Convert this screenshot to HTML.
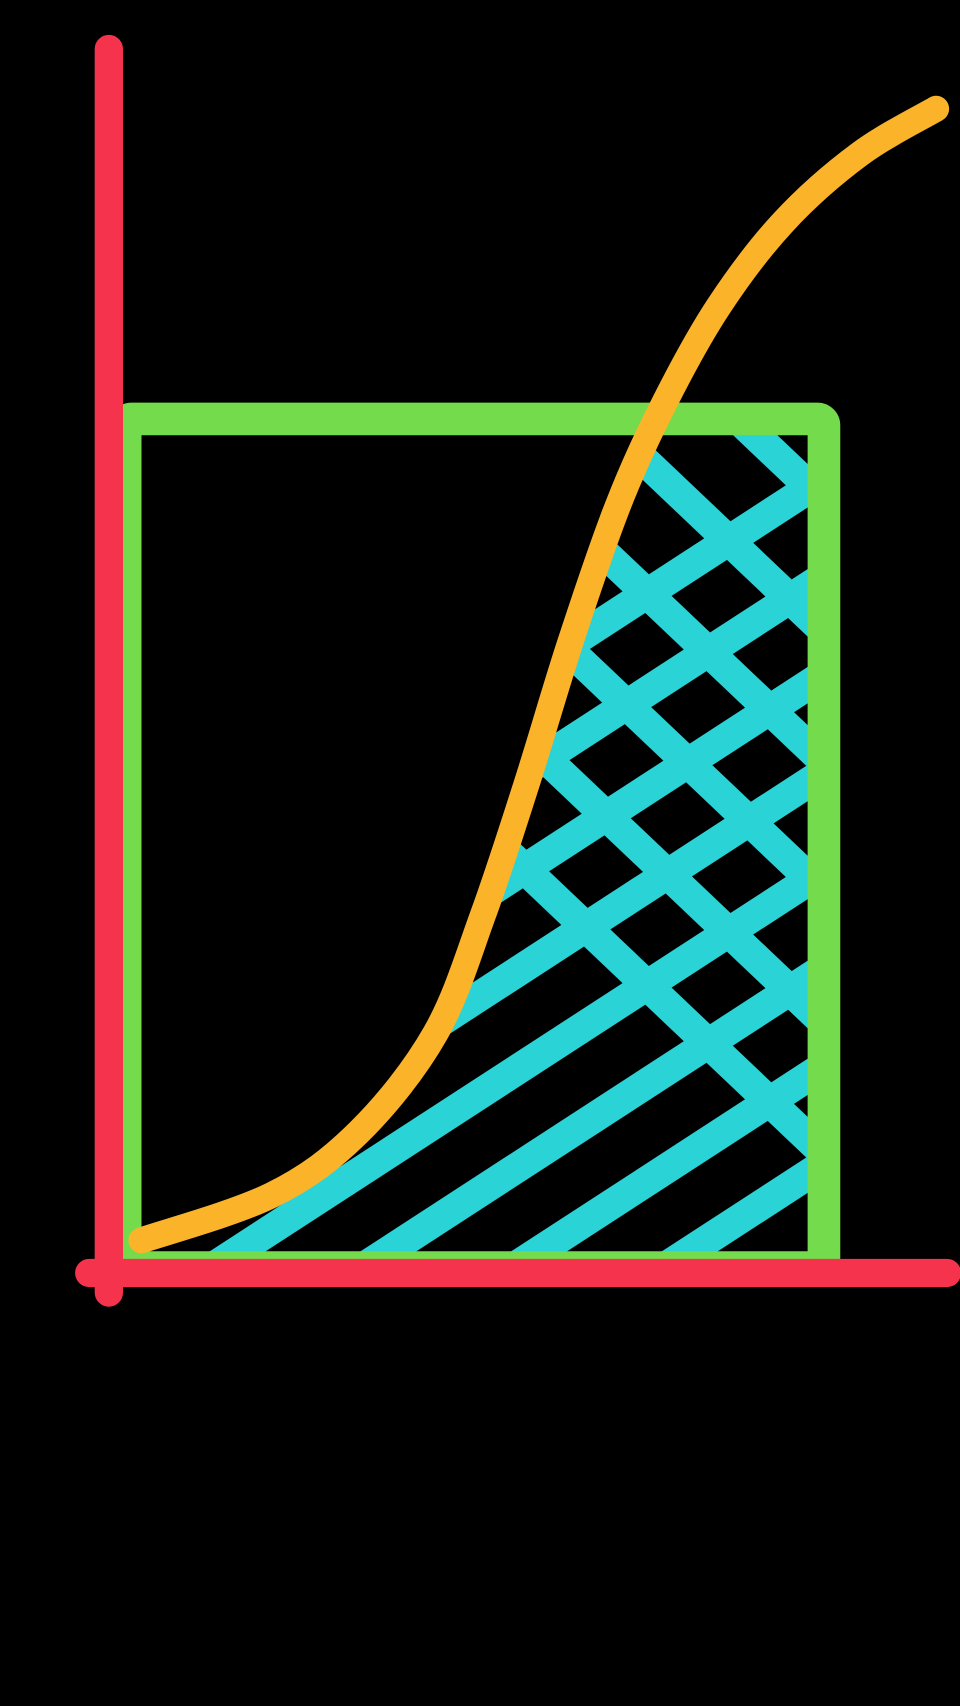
<!DOCTYPE html>
<html><head><meta charset="utf-8"><style>
html,body{margin:0;padding:0;background:#000;width:960px;height:1706px;overflow:hidden}
svg{display:block}
</style></head><body>
<svg id="chart" width="960" height="1706" viewBox="0 0 882 1568" preserveAspectRatio="none">
<rect width="882" height="1568" fill="#000"/>
<defs>
<clipPath id="rectClip"><rect x="115" y="385" width="642" height="785"/></clipPath>
<clipPath id="curveClip"><polygon id="clipPoly" points=""/></clipPath>
</defs>
<g id="hatchOuter" clip-path="url(#rectClip)">
<g id="hatch" clip-path="url(#curveClip)"></g>
</g>
<rect x="115" y="385" width="642" height="780" rx="6" fill="none" stroke="#74dc4c" stroke-width="30"/>
<line x1="100" y1="45" x2="100" y2="1188" stroke="#f5334d" stroke-width="26" stroke-linecap="round"/>
<line x1="82" y1="1170" x2="870" y2="1170" stroke="#f5334d" stroke-width="26" stroke-linecap="round"/>
<path id="curve" fill="none" stroke="#fbb42a" stroke-width="24" stroke-linecap="round" stroke-linejoin="round"/>
</svg>
<script>
const curveX = [0, 1.64, 2.74, 3.70, 4.30, 4.85, 5.40, 6.0, 6.58, 7.26, 8.08, 9.04, 10];
const curveY = [0, 0.04, 0.096, 0.183, 0.288, 0.404, 0.529, 0.650, 0.740, 0.825, 0.900, 0.960, 1.0];
function sx(v){return 130 + v*73;}
function sy(v){return 1140 - v*1040;}
const pts = curveX.map((x,i)=>[sx(x), sy(curveY[i])]);
let d = `M${pts[0][0]},${pts[0][1]}`;
for(let i=0;i<pts.length-1;i++){
  const p0=pts[Math.max(i-1,0)],p1=pts[i],p2=pts[i+1],p3=pts[Math.min(i+2,pts.length-1)];
  const c1=[p1[0]+(p2[0]-p0[0])/6,p1[1]+(p2[1]-p0[1])/6];
  const c2=[p2[0]-(p3[0]-p1[0])/6,p2[1]-(p3[1]-p1[1])/6];
  d+=` C${c1[0]},${c1[1]} ${c2[0]},${c2[1]} ${p2[0]},${p2[1]}`;
}
document.getElementById('curve').setAttribute('d', d);
const poly = pts.map(p=>p.join(',')).concat(['882,100','882,1200','130,1200']).join(' ');
document.getElementById('clipPoly').setAttribute('points', poly);
const hatch = document.getElementById('hatch');
const NS='http://www.w3.org/2000/svg';
function addLine(x1,y1,x2,y2,name){
  const l=document.createElementNS(NS,'line');
  l.setAttribute('x1',x1);l.setAttribute('y1',y1);l.setAttribute('x2',x2);l.setAttribute('y2',y2);
  l.setAttribute('stroke','#2ad3d6');l.setAttribute('stroke-width','28');l.setAttribute('stroke-linecap','round');
  
  
  hatch.appendChild(l);
}
for(let k=0;k<10;k++){
  const yr = 440 + k*90;
  addLine(757, yr, 157, yr + 600*0.65, 'hatch-line-up');
}
for(let k=0;k<9;k++){
  const yr = 1060 - k*120;
  addLine(757, yr, 157, yr - 600*0.95, 'hatch-line-down');
}
</script>
</body></html>
